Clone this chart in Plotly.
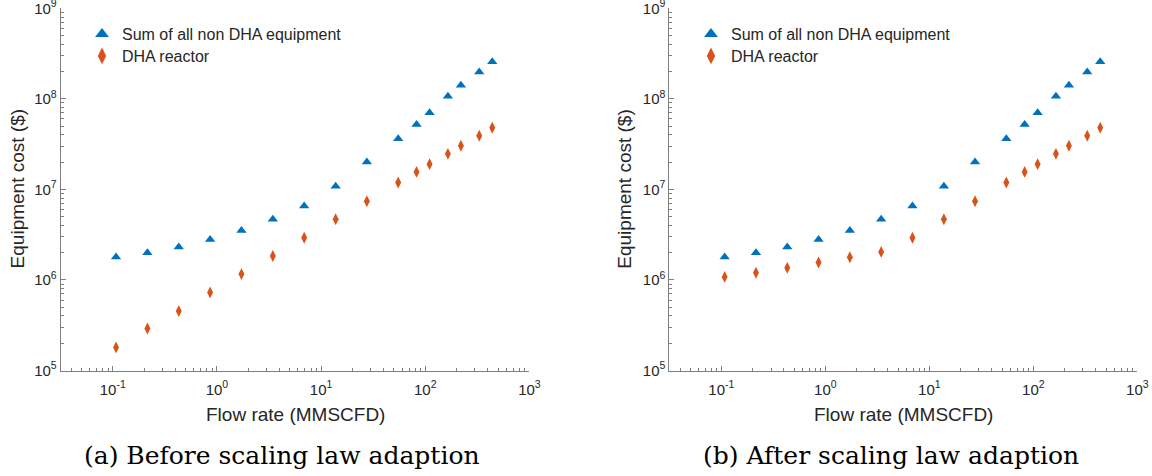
import math
import plotly.graph_objects as go

# ---- data ----
flow_rate = [0.1075, 0.215, 0.43, 0.86, 1.72, 3.44, 6.88, 13.8, 27.5, 55, 82.5, 110, 165, 220, 330, 440]
non_dha_cost = [1.79e6, 2.0e6, 2.31e6, 2.79e6, 3.51e6, 4.68e6, 6.57e6, 1.08e7, 2.01e7, 3.62e7,
                5.22e7, 7.02e7, 1.07e8, 1.41e8, 1.98e8, 2.57e8]
dha_before = [1.80e5, 2.91e5, 4.53e5, 7.29e5, 1.16e6, 1.84e6, 2.93e6, 4.68e6, 7.40e6, 1.19e7,
              1.56e7, 1.90e7, 2.47e7, 3.03e7, 3.91e7, 4.79e7]
dha_after = [1.08e6, 1.20e6, 1.36e6, 1.56e6, 1.78e6, 2.04e6, 2.93e6, 4.68e6, 7.40e6, 1.19e7,
             1.56e7, 1.90e7, 2.47e7, 3.03e7, 3.91e7, 4.79e7]
x_tickvals = [0.1, 1, 10, 100, 1000]
x_ticktext = ["10<sup>-1</sup>", "10<sup>0</sup>", "10<sup>1</sup>", "10<sup>2</sup>", "10<sup>3</sup>"]
y_tickvals = [1e5, 1e6, 1e7, 1e8, 1e9]
y_ticktext = ["10<sup>5</sup>", "10<sup>6</sup>", "10<sup>7</sup>", "10<sup>8</sup>", "10<sup>9</sup>"]
captions = ["(a) Before scaling law adaption", "(b) After scaling law adaption"]
series1_name = "Sum of all non DHA equipment"
series2_name = "DHA reactor"
x_title = "Flow rate (MMSCFD)"
y_title = "Equipment cost ($)"

BLUE = "#0072BD"
ORANGE = "#D95319"
AXIS = "#808080"
TXT = "#262626"
FONT = "Liberation Sans, Arial, sans-serif"
SERIF = "DejaVu Serif, Liberation Serif, serif"

W, H = 1152, 476
fig = go.Figure()

panels = [
    dict(xd=[60.7 / W, 529.4 / W], dha=dha_before, cap_x=281.5 / W, ytitle_x=17 / W, leg_px=82),
    dict(xd=[669.4 / W, 1137.3 / W], dha=dha_after, cap_x=890.5 / W, ytitle_x=624.3 / W, leg_px=691),
]
ydom = [1 - 370.5 / H, 1 - 8.3 / H]

layout = dict(
    width=W, height=H, margin=dict(l=0, r=0, t=0, b=0, autoexpand=False),
    paper_bgcolor="white", plot_bgcolor="white",
    font=dict(family=FONT, color=TXT, size=15),
    annotations=[],
    showlegend=True,
)

x_minor = [m * 10 ** e for e in range(-2, 3) for m in range(2, 10)
           if -1.5 <= math.log10(m * 10 ** e) <= 3]
y_minor = [m * 10 ** e for e in range(5, 9) for m in range(2, 10)]

for i, p in enumerate(panels):
    xa = "x" if i == 0 else "x2"
    ya = "y" if i == 0 else "y2"
    lg1 = "legend" if i == 0 else "legend3"
    lg2 = "legend2" if i == 0 else "legend4"
    fig.add_trace(go.Scatter(
        x=flow_rate, y=non_dha_cost, mode="markers", name=series1_name,
        marker=dict(symbol="triangle-up", size=9, color=BLUE, line=dict(width=0)),
        xaxis=xa, yaxis=ya, legend=lg1))
    fig.add_trace(go.Scatter(
        x=flow_rate, y=p["dha"], mode="markers", name=series2_name,
        marker=dict(symbol="diamond-tall", size=8.5, color=ORANGE, line=dict(width=0)),
        xaxis=xa, yaxis=ya, legend=lg2))

    common = dict(
        showline=True, linecolor=AXIS, linewidth=1, mirror=False,
        showgrid=False, zeroline=False, automargin=False,
        ticks="inside", ticklen=5, tickcolor=AXIS, tickwidth=1,
        ticklabeloverflow="allow",
        tickfont=dict(size=15, color=TXT, family=FONT),
    )
    axx = dict(type="log", domain=p["xd"], range=[-1.5, 3], anchor=ya,
               tickvals=x_tickvals, ticktext=x_ticktext, ticklabelstandoff=5,
               minor=dict(ticks="inside", ticklen=3, tickcolor=AXIS, tickwidth=1, showgrid=False,
                          tickvals=x_minor),
               **common)
    axy = dict(type="log", domain=ydom, range=[5, 9], anchor=xa,
               tickvals=y_tickvals, ticktext=y_ticktext,
               minor=dict(ticks="inside", ticklen=3, tickcolor=AXIS, tickwidth=1, showgrid=False,
                          tickvals=y_minor),
               **common)
    layout["xaxis" if i == 0 else "xaxis2"] = axx
    layout["yaxis" if i == 0 else "yaxis2"] = axy

    for lg, top_px in ((lg1, 17), (lg2, 39)):
        layout[lg] = dict(
            x=p["leg_px"] / W, y=1 - top_px / H, xref="paper", yref="paper",
            xanchor="left", yanchor="top",
            bgcolor="rgba(0,0,0,0)", borderwidth=0,
            font=dict(size=16, color=TXT, family=FONT),
            itemsizing="constant",
        )

    xmid = (p["xd"][0] + p["xd"][1]) / 2
    layout["annotations"].append(dict(
        text=x_title, x=xmid, y=1 - 414 / H,
        xref="paper", yref="paper", showarrow=False, xanchor="center", yanchor="middle",
        font=dict(size=19, color=TXT, family=FONT)))
    layout["annotations"].append(dict(
        text=y_title, x=p["ytitle_x"], y=(ydom[0] + ydom[1]) / 2,
        xref="paper", yref="paper", showarrow=False, xanchor="center", yanchor="middle",
        textangle=-90, font=dict(size=19, color=TXT, family=FONT)))
    layout["annotations"].append(dict(
        text=captions[i], x=p["cap_x"], y=1 - 455 / H,
        xref="paper", yref="paper", showarrow=False, xanchor="center", yanchor="middle",
        font=dict(size=25, color="black", family=SERIF)))

fig.update_layout(**layout)
fig.write_html("out.html")
